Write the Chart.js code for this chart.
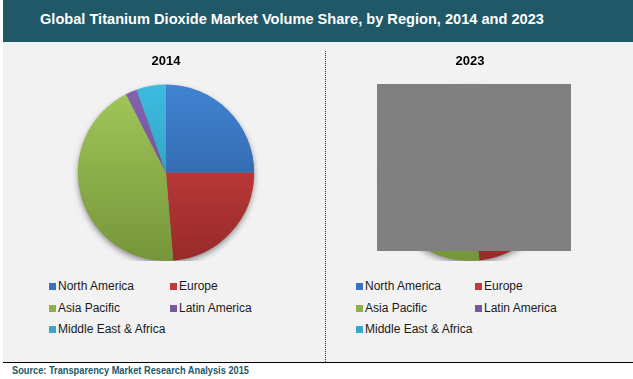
<!DOCTYPE html>
<html>
<head>
<meta charset="utf-8">
<script src="https://cdn.jsdelivr.net/npm/chart.js@4/dist/chart.umd.min.js"></script>
<style>
  html, body { margin:0; padding:0; background:#ffffff; width:633px; height:379px; overflow:hidden; font-family:"Liberation Sans", Arial, sans-serif; }
  #header { position:absolute; left:3px; top:0; width:630px; height:42px; background:#205868; }
  #header span { position:absolute; left:37px; top:11px; color:#ffffff; font-weight:bold; font-size:14.6px; white-space:nowrap; }
  #panel { position:absolute; left:3px; top:42px; width:630px; height:320px; background:#f2f2f2; }
  #rule { position:absolute; left:3px; top:362px; width:630px; height:0; border-top:1.5px solid #000; }
  #divider { position:absolute; left:325px; top:51px; height:311px; width:0; border-left:1px dotted #333; }
  #source { position:absolute; left:12px; top:364px; color:#205868; font-family:"Liberation Sans", Arial, sans-serif; font-weight:bold; font-size:10.5px; white-space:nowrap; transform:scaleX(0.88); transform-origin:left top; }
  .cv { position:absolute; }
  .legend { position:absolute; font-size:12px; color:#1a1a1a; }
  .li { position:absolute; white-space:nowrap; line-height:14px; }
  .li i { position:absolute; left:0; top:4px; width:7px; height:7px; }
  .li span { position:absolute; left:9px; top:0; }
  #cover { position:absolute; left:377px; top:84px; width:194px; height:167px; background:#808080; }
</style>
</head>
<body>
<div id="header"><span>Global Titanium Dioxide Market Volume Share, by Region, 2014 and 2023</span></div>
<div id="panel"></div>
<div id="divider"></div>
<div id="rule"></div>
<div id="source">Source: Transparency Market Research Analysis 2015</div>
<div class="cv" style="left:6px;top:48px;width:320px;height:213px;"><canvas id="c1"></canvas></div>
<div class="cv" style="left:310px;top:48px;width:320px;height:213px;"><canvas id="c2"></canvas></div>
<div id="cover"></div>
<div class="legend" id="lg1" style="left:49px;top:279px;"></div>
<div class="legend" id="lg2" style="left:356px;top:279px;"></div>
<script>
// ---- data ----
const regions = ['North America', 'Europe', 'Asia Pacific', 'Latin America', 'Middle East & Africa'];
const years = ['2014', '2023'];
const share2014 = [25.0, 23.7, 43.8, 2.1, 5.4];
const share2023 = [24.2, 24.1, 45.5, 2.0, 4.2];

// ---- palette ----
const baseColors = ['#3a73bd', '#c03a3a', '#8fb04a', '#7557a0', '#35a8cc'];
const lightColors = ['#4083d2', '#d84444', '#a2c85a', '#8464b0', '#3cbbe0'];
const darkColors = ['#2b5793', '#982a2a', '#76953a', '#5e4484', '#2a8fae'];

function gradFill(ctx) {
  const chart = ctx.chart;
  const area = chart.chartArea;
  const i = ctx.dataIndex;
  if (!area || i === undefined) return baseColors[i || 0];
  const g = chart.ctx.createLinearGradient(0, area.top, 0, area.bottom);
  g.addColorStop(0, lightColors[i]);
  g.addColorStop(1, darkColors[i]);
  return g;
}

const shadowPlugin = {
  id: 'pieShadow',
  beforeDatasetsDraw(chart) {
    const meta = chart.getDatasetMeta(0);
    if (!meta.data.length) return;
    const a = meta.data[0];
    const ctx = chart.ctx;
    ctx.save();
    ctx.shadowColor = 'rgba(0,0,0,0.45)';
    ctx.shadowBlur = 6;
    ctx.shadowOffsetY = 3;
    ctx.beginPath();
    ctx.arc(a.x, a.y, a.outerRadius - 0.5, 0, Math.PI * 2);
    ctx.fillStyle = '#888';
    ctx.fill();
    ctx.restore();
  }
};

function makePie(id, year, values) {
  new Chart(document.getElementById(id), {
    type: 'pie',
    data: {
      labels: regions,
      datasets: [{ data: values, backgroundColor: gradFill, borderWidth: 0, hoverOffset: 0 }]
    },
    options: {
      responsive: true,
      maintainAspectRatio: false,
      animation: false,
      layout: { padding: 0 },
      plugins: {
        legend: { display: false },
        tooltip: { enabled: false },
        title: {
          display: true,
          text: year,
          color: '#000',
          font: { family: '"Liberation Sans", Arial, sans-serif', size: 13, weight: 'bold', lineHeight: 1.2 },
          padding: { top: 6, bottom: 15 }
        }
      }
    },
    plugins: [shadowPlugin]
  });
}

function makeLegend(id, colOffset) {
  const el = document.getElementById(id);
  regions.forEach((r, i) => {
    const d = document.createElement('div');
    d.className = 'li';
    d.style.left = ((i % 2) * colOffset) + 'px';
    d.style.top = (Math.floor(i / 2) * 21.5) + 'px';
    d.innerHTML = '<i style="background:' + baseColors[i] + '"></i><span></span>';
    d.querySelector('span').textContent = r;
    el.appendChild(d);
  });
}

makePie('c1', years[0], share2014);
makePie('c2', years[1], share2023);
makeLegend('lg1', 121);
makeLegend('lg2', 119);
</script>
</body>
</html>
